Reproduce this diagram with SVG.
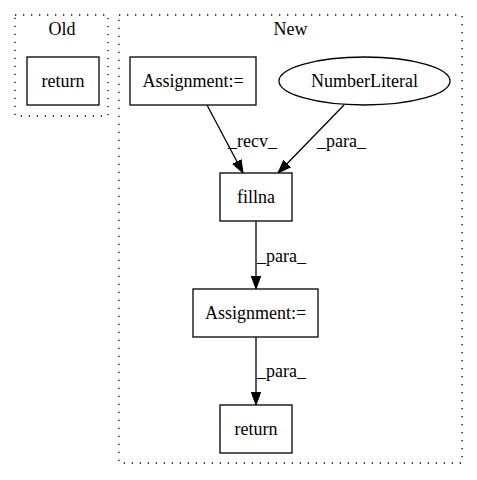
<svg xmlns="http://www.w3.org/2000/svg" width="477" height="480" viewBox="0 0 477 480">
<style>
.t{font-family:'Liberation Serif','Times New Roman',Times,serif;font-size:18px;fill:#000}
.c{text-anchor:middle}
.cl{fill:none;stroke:#000;stroke-width:1.3;stroke-dasharray:1.3,6.7}
.n{fill:#fff;stroke:#000;stroke-width:1.3}
.e{fill:none;stroke:#000;stroke-width:1.3}
</style>
<defs>
<marker id="ah" markerUnits="userSpaceOnUse" markerWidth="14" markerHeight="12" refX="13" refY="0" viewBox="0 -6 14 12" orient="auto">
<path d="M0,-4.7 L13,0 L0,4.7 z" fill="#000" stroke="#000" stroke-width="1"/>
</marker>
</defs>
<rect width="477" height="480" fill="#fff"/>
<g font-family="Liberation Serif, Times New Roman, serif" font-size="18">
<g id="cluster_old">
<rect class="cl" x="15" y="15" width="93" height="101"/>
<text class="t c" x="62" y="35">Old</text>
</g>
<g id="cluster_new">
<rect class="cl" x="119" y="15" width="343" height="448"/>
<text class="t c" x="290.5" y="35">New</text>
</g>
<g id="connectors">
<line class="e" x1="207" y1="105" x2="243" y2="173" marker-end="url(#ah)"/>
<text class="t" x="228" y="147">_recv_</text>
<line class="e" x1="344" y1="105" x2="278" y2="173" marker-end="url(#ah)"/>
<text class="t" x="317" y="147">_para_</text>
<line class="e" x1="256" y1="221" x2="256" y2="289" marker-end="url(#ah)"/>
<text class="t" x="257" y="262">_para_</text>
<line class="e" x1="256" y1="337" x2="256" y2="405" marker-end="url(#ah)"/>
<text class="t" x="257" y="377">_para_</text>
</g>
<g id="old_return">
<rect class="n" x="27" y="57" width="72" height="48"/>
<text class="t c" x="63" y="87">return</text>
</g>
<g id="assignment1">
<rect class="n" x="130" y="57" width="126" height="48"/>
<text class="t c" x="193" y="87">Assignment:=</text>
</g>
<g id="numberliteral">
<ellipse class="n" cx="364.5" cy="81" rx="85.5" ry="24"/>
<text class="t c" x="364.5" y="87">NumberLiteral</text>
</g>
<g id="fillna">
<rect class="n" x="220" y="173" width="72" height="48"/>
<text class="t c" x="256" y="203">fillna</text>
</g>
<g id="assignment2">
<rect class="n" x="193" y="289" width="125" height="48"/>
<text class="t c" x="255.5" y="319">Assignment:=</text>
</g>
<g id="new_return">
<rect class="n" x="220" y="405" width="72" height="48"/>
<text class="t c" x="256" y="435">return</text>
</g>
</g>
</svg>
